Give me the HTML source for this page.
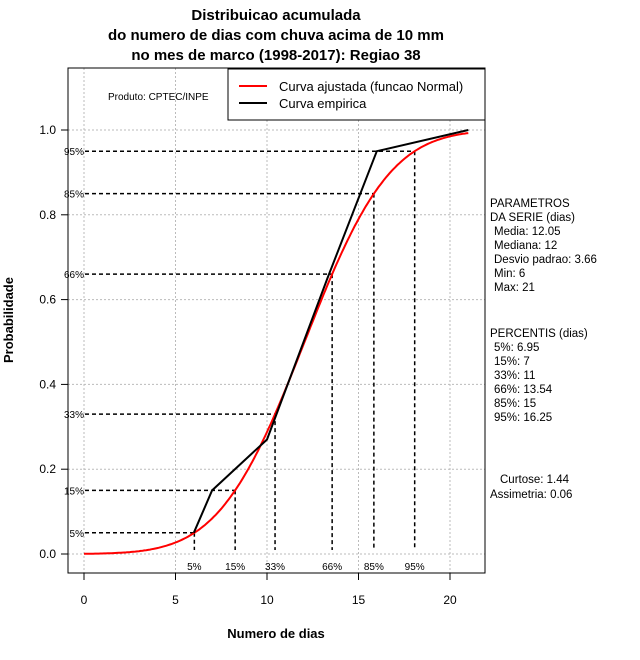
<!DOCTYPE html>
<html><head><meta charset="utf-8"><style>
body{margin:0;background:#fff;}
svg{display:block;font-family:"Liberation Sans",sans-serif;}
</style></head><body>
<svg id="chart" width="640" height="660" viewBox="0 0 640 660">
<g font-weight="bold" font-size="15" text-anchor="middle">
<text x="276" y="20">Distribuicao acumulada</text>
<text x="276" y="40">do numero de dias com chuva acima de 10 mm</text>
<text x="276" y="60">no mes de marco (1998-2017): Regiao 38</text>
</g>
<g id="grid"></g>
<g id="pct"></g>
<g id="series"></g>
<rect x="68" y="68" width="417" height="505" fill="none" stroke="#000"/>
<g id="axes" font-size="12"></g>
<text x="276" y="638" font-size="13" font-weight="bold" text-anchor="middle">Numero de dias</text>
<text transform="translate(13,320) rotate(-90)" font-size="13" font-weight="bold" text-anchor="middle">Probabilidade</text>
<text x="108" y="100" font-size="10">Produto: CPTEC/INPE</text>
<g>
<rect x="228" y="69" width="257" height="51" fill="#fff" stroke="#000"/>
<line x1="239" y1="86" x2="267" y2="86" stroke="#f00" stroke-width="2"/>
<text x="279" y="91" font-size="13">Curva ajustada (funcao Normal)</text>
<line x1="239" y1="103" x2="267" y2="103" stroke="#000" stroke-width="2"/>
<text x="279" y="108" font-size="13">Curva empirica</text>
</g>
<g font-size="11.5">
<text x="490" y="207">PARAMETROS</text>
<text x="490" y="221">DA SERIE (dias)</text>
<text x="494" y="235">Media: 12.05</text>
<text x="494" y="249">Mediana: 12</text>
<text x="494" y="263">Desvio padrao: 3.66</text>
<text x="494" y="277">Min: 6</text>
<text x="494" y="291">Max: 21</text>
<text x="490" y="337">PERCENTIS (dias)</text>
<text x="494" y="351">5%: 6.95</text>
<text x="494" y="365">15%: 7</text>
<text x="494" y="379">33%: 11</text>
<text x="494" y="393">66%: 13.54</text>
<text x="494" y="407">85%: 15</text>
<text x="494" y="421">95%: 16.25</text>
<text x="500" y="483">Curtose: 1.44</text>
<text x="490" y="498">Assimetria: 0.06</text>
</g>
</svg>
<script>
const xTicks=[0,5,10,15,20];
const yTicks=[0,0.2,0.4,0.6,0.8,1.0];
const empX=[6,7,10,13.3,16,21];
const empY=[0.05,0.15,0.27,0.65,0.95,1.0];
const fitMean=12.05;
const fitSd=3.66;
const pctLabels=["5%","15%","33%","66%","85%","95%"];
const pctProb=[0.05,0.15,0.33,0.66,0.85,0.95];
const pctX=[6.03,8.26,10.44,13.56,15.84,18.07];
const NS="http://www.w3.org/2000/svg";
const sx=v=>84+v*18.3;
const sy=p=>554-p*424;
function mk(parent,tag,attrs){const e=document.createElementNS(NS,tag);for(const k in attrs)e.setAttribute(k,attrs[k]);document.getElementById(parent).appendChild(e);return e;}
function erf(x){const s=Math.sign(x);x=Math.abs(x);const t=1/(1+0.3275911*x);const y=1-(((((1.061405429*t-1.453152027)*t)+1.421413741)*t-0.284496736)*t+0.254829592)*t*Math.exp(-x*x);return s*y;}
const cdf=x=>0.5*(1+erf((x-fitMean)/(fitSd*Math.SQRT2)));
xTicks.forEach(v=>{
 const g=mk('grid','line',{x1:sx(v),x2:sx(v),y1:68,y2:573,stroke:'#bbb','stroke-dasharray':'2,2'});
 
 const t=mk('axes','line',{x1:sx(v),x2:sx(v),y1:573,y2:580,stroke:'#000'});
 
 const l=mk('axes','text',{x:sx(v),y:604,'text-anchor':'middle'});l.textContent=v;
 
});
yTicks.forEach(v=>{
 const g=mk('grid','line',{x1:68,x2:485,y1:sy(v),y2:sy(v),stroke:'#bbb','stroke-dasharray':'2,2'});
 
 const t=mk('axes','line',{x1:61,x2:68,y1:sy(v),y2:sy(v),stroke:'#000'});
 
 const l=mk('axes','text',{x:56,y:sy(v)+4,'text-anchor':'end'});l.textContent=v.toFixed(1);
 
});
pctProb.forEach((p,i)=>{
 const h=mk('pct','line',{x1:85,x2:sx(pctX[i]),y1:sy(p),y2:sy(p),stroke:'#000','stroke-width':1.5,'stroke-dasharray':'4,3'});
 
 const v=mk('pct','line',{x1:sx(pctX[i]),x2:sx(pctX[i]),y1:sy(p),y2:550,stroke:'#000','stroke-width':1.5,'stroke-dasharray':'4,3'});
 
 const a=mk('pct','text',{x:84,y:sy(p)+4,'text-anchor':'end','font-size':10});a.textContent=pctLabels[i];
 
 const b=mk('pct','text',{x:sx(pctX[i]),y:570,'text-anchor':'middle','font-size':10});b.textContent=pctLabels[i];
 
});
let d='';for(let i=0;i<=210;i++){const x=i/10;d+=(i?'L':'M')+sx(x).toFixed(1)+','+sy(cdf(x)).toFixed(1);}
const red=mk('series','path',{d:d,fill:'none',stroke:'#f00','stroke-width':2});

const emp=mk('series','polyline',{points:empX.map((x,i)=>sx(x)+','+sy(empY[i])).join(' '),fill:'none',stroke:'#000','stroke-width':2});

</script>
</body></html>
